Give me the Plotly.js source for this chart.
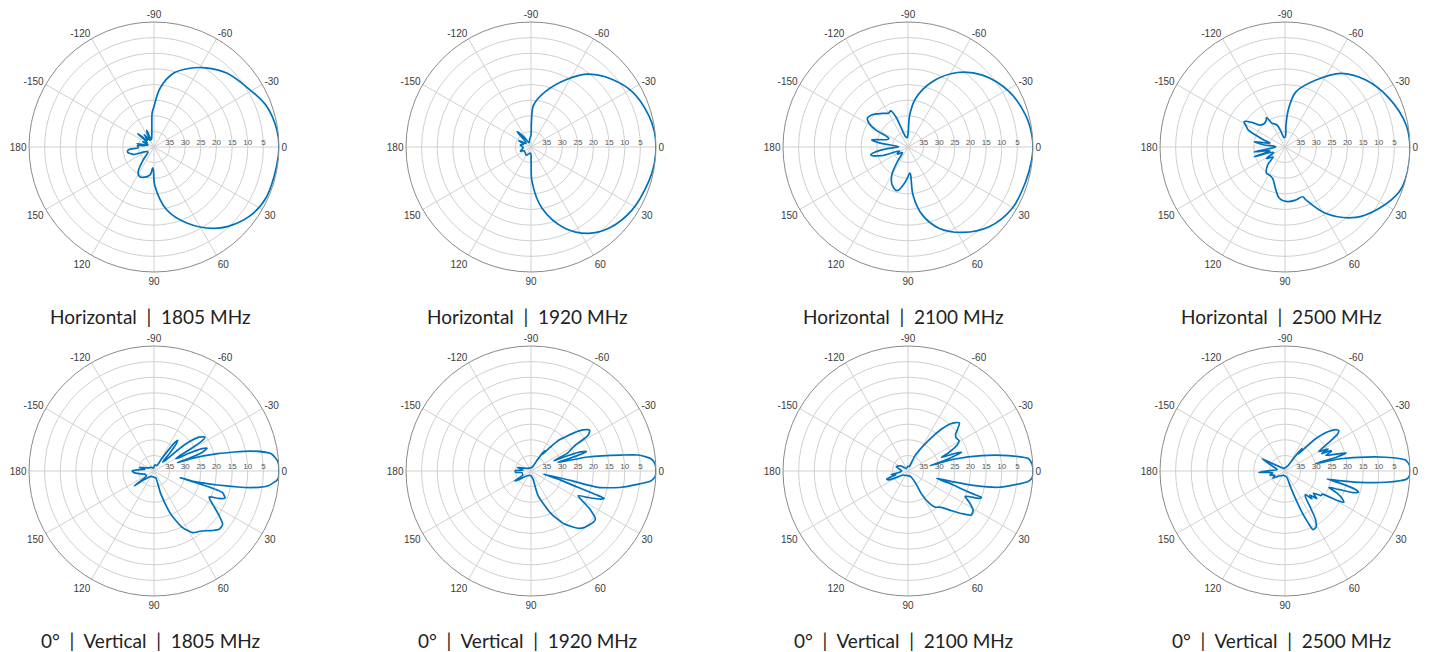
<!DOCTYPE html>
<html>
<head>
<meta charset="utf-8">
<script src="https://cdn.plot.ly/plotly-3.0.1.min.js"></script>
<style>html,body{margin:0;padding:0;background:#fff;}#chart{width:1432px;height:652px;}</style>
</head>
<body>
<div id="chart"></div>
<script>
// ---------- DATA (angle in degrees, attenuation in dB below peak) ----------
const angleTickVals = [0,30,60,90,120,150,180,210,240,270,300,330];
const angleTickText = ['0','30','60','90','120','150','180','-150','-120','-90','-60','-30'];
const radialTickVals = [35,30,25,20,15,10,5];

const titles = [
  'Horizontal  |  1805 MHz','Horizontal  |  1920 MHz','Horizontal  |  2100 MHz','Horizontal  |  2500 MHz',
  '0°  |  Vertical  |  1805 MHz','0°  |  Vertical  |  1920 MHz','0°  |  Vertical  |  2100 MHz','0°  |  Vertical  |  2500 MHz'
];

const thetaH1805 = [-110,-100,-96,-93,-90,-84,-75,-65.5,-57,-45.5,-31,-20,-8,0,9,23.6,33.6,44.4,54,66.7,78.6,88.5,91.7,93.6,98,109,116.6,122.8,130,140,150,160,163,168.5,174,178,-175.4,-172,-169,-163,-155,-148,-140.8,-135,-128,-122,-117,-113.7,-110];
const attH1805   = [37.5,36,33.4,29,27,21,15.5,12.3,9.8,6.8,4.3,1.7,0.3,0,0.3,0.6,1.8,4.5,7.8,13.5,19.5,27.4,32.7,33.3,31,29.7,29.5,30.7,34.7,37.5,37,33,32.5,31.4,31.8,35,34.7,37,34.4,38,36,37.5,33.3,37,35,37.5,35.5,34.2,37.5];

const thetaH1920 = [-100,-90,-89,-86.4,-75.5,-62.9,-52.5,-43.4,-28.7,-15.2,-7,0,8,16.4,32,46.3,56.3,67.1,79.8,88.3,89.5,95,120,150,159,165,175,-170,-160,-152.8,-142,-132,-125,-115,-100];
const attH1920   = [37.5,36.2,31.9,26.5,21.7,15.9,10.6,7.3,3.1,1.0,0.2,0,0.2,0.75,1.9,4.0,6.8,11.7,20.1,28.9,35.3,38,37,37.5,36.4,37,37.5,36.5,37.5,35.6,38,33.4,36,38.5,37.5];

const thetaH2100 = [-95,-89,-87,-81,-69.6,-56.5,-44,-28.7,-15.2,-6,0,6,16.4,30.4,44.5,57.5,69.1,78.1,84,84.6,86,94,103.7,112.4,120,126,135,145,149,155,162,168,173,178,-178,-172,-169,-165,-160,-156,-152,-148.7,-144.8,-138,-127.3,-120,-115.7,-112,-110,-103,-95];
const attH2100   = [37,35,29.8,24.2,17.7,11.4,6.9,3.1,1.0,0.2,0,0.2,0.75,1.3,3.6,7.6,12.2,17.8,24.5,31,31.6,28.9,25.6,26.8,29.6,34.2,37.5,36,36,37,31,27.8,31,36,37,31,28.2,31,33,33.3,28,25.4,24.1,24.6,26.5,27.5,27.2,29.5,33,36.6,37];

const thetaH2500 = [-96,-88,-87.4,-84.6,-78.8,-65.2,-52.8,-39.6,-25,-10.3,0,11.4,21.3,33,44.7,58.3,68.4,70.4,78.3,87.2,96.3,103,111.5,119,124.8,134,140,148,155,162.5,166,171,176,-178,-174,-170,-166,-162,-158,-155,-152,-148,-143,-139.4,-132,-125,-122,-119,-110,-104.6,-96];
const attH2500   = [37,36.7,33,27.6,22,16.4,10.4,6.4,3.2,0.6,0,0,0.7,4,8,15,21.8,23.1,22.7,22.5,23.5,26.4,29.2,29.7,29.7,32,35,33,36,29.7,35,30,36,37,33,30,35,33,30,27,26,24.6,27,29.2,30,29.5,28.9,31.2,32.5,34.9,37];

const thetaV1805 = [-80,-62,-58,-55.6,-54,-52.3,-51,-48.5,-46,-43,-40.6,-37,-33.7,-32,-31,-30,-28,-27.2,-25,-23.2,-21,-20,-19.7,-18.4,-15.2,-11.6,-8.4,-4.5,0,3.8,7.5,9.7,12.4,14.8,14.2,15.8,17.5,21,23,25.2,29.6,33.2,37.8,41.8,46,51.9,57.9,63.2,68.6,73.3,76,90,120,138,143,147,160,170,176,180,-176,-170,-166,-160,-150,-130,-100,-80];
const attV1805   = [38,38,35.5,32.2,29,27.6,28.5,32.6,36,35,27,22,20.4,22,27,32,31,27.9,23,21.5,23.5,28,32,27.5,18.9,8.3,2.1,0.3,0,0.3,3.3,8.5,19.1,26.6,31.3,24.4,17,15.7,17.5,20.5,18.4,15.7,12.2,12,13.5,15.6,16.7,19.7,25.1,32.2,37.8,38,38,36,32.1,37,37,35,33.5,33,34.5,37,35.2,37,38,38.5,39,38];

const thetaV1920 = [-70,-62,-58,-56,-55,-52,-48.3,-45,-40,-36,-34.5,-32,-30.1,-26,-24,-22.5,-21,-19.3,-18.5,-18,-17.8,-13.8,-10,-8.5,-5.7,-3,0,2.5,4.6,10.2,13.7,13.5,14,17,18.7,20,20.5,22,25,27.7,32.9,36.7,39.6,46.4,50.6,57.6,64.7,74,76,90,130,145,149,153,170,176,-178,-174,-165,-158,-145,-100,-70];
const attV1920   = [38.5,37,34,32.2,33.5,31,27,24.7,20,17.5,17.2,18.5,23.9,27,32,27,23,21.2,24,29,31,21.2,10.6,5.4,1.3,0.2,0,0.2,1.4,10.6,17.9,26.7,36,30,26.4,18,15,16,20,23,17.6,14.3,14.2,15.1,16.3,19.9,24.8,31.8,37.3,38.5,38,35,33.9,37,37,35,35,37.5,35.5,37.5,38.5,39,38.5];

const thetaV2100 = [-75,-70,-65.5,-56.2,-51.3,-48.2,-45.6,-43,-40,-37.8,-34.5,-30.7,-27.5,-24,-22.1,-20.5,-19.2,-17,-15,-13.6,-14.3,-11.8,-8.7,-5.9,-3,0,3,5,10.2,12.3,13.5,14.3,17,18.5,19.5,19.7,21,24,27,31.3,34.9,37.8,42.3,46,50.1,53,57,59.3,58,65,100,140,152,156,159.4,163,168,172,-178,-160,-146,-120,-90,-75];
const attV2100   = [38.5,38,34.6,28.3,22.8,19.8,18.3,17.5,19.3,20.7,21.3,21,22.4,26,28.4,24,21.8,26,30,32.7,24.5,15.9,7.5,1.3,0.2,0,0.2,1.4,10.6,18,25,30.5,25,21.9,17,15,15.5,20,18,15.6,15.4,17.6,21.1,23.5,24.9,25.5,28,31.4,35.7,38,38.5,38,35,33,32.7,36,34.5,37.5,38,36,37,39,38.5,38.5];

const thetaV2500 = [-70,-60,-55,-53,-51.5,-50,-46.5,-42,-38.5,-37,-35,-32.5,-30,-27,-25.5,-24,-23,-21,-18.5,-16.4,-15,-13.5,-12.6,-10.5,-7.8,-5.2,-2.5,0,2,3.75,6.4,8.7,10.2,10.8,12.5,14.5,16.1,17.5,19,20.5,23,26,28.1,29.5,31.9,34.2,38,41,44,46,49,52,55,57.7,61,64.5,66,67.6,69,71,75,110,140,150,158,165,172,177,180,-177,-170,-160,-152,-148,-140,-120,-90,-70];
const attV2500   = [38.5,38,34,30.9,33,31.5,25.9,21,18.8,18.5,19.5,24.3,27.5,24.5,27,24,23.9,26,23,19.5,23,30,22.4,16,7.6,1.3,0.1,0,0.1,0.9,7.7,16.1,22.5,26.3,22,17,15.5,17,22,25,22,19.5,18.7,21,26,26,28.5,26.5,29,27.6,30,29.3,26,21.8,19.5,19.2,22,25.7,30,34.8,38,38.5,37.5,35.5,36.5,35,36,31.6,34,36,37.5,36,31.7,36,38,39,39,38.5];

const series = [
  [thetaH1805, attH1805],[thetaH1920, attH1920],[thetaH2100, attH2100],[thetaH2500, attH2500],
  [thetaV1805, attV1805],[thetaV1920, attV1920],[thetaV2100, attV2100],[thetaV2500, attV2500]
];

// ---------- LAYOUT ----------
const W = 1432, H = 652, R = 125;
const colX = [154, 531, 908, 1285];
const rowY = [147, 471];
const titleY = [316, 640];

const traces = [];
const layout = {
  width: W, height: H,
  margin: {l:0, r:0, t:0, b:0},
  paper_bgcolor: '#ffffff',
  showlegend: false,
  annotations: []
};

series.forEach((s, i) => {
  const col = i % 4, row = Math.floor(i / 4);
  const cx = colX[col], cy = rowY[row];
  const key = i === 0 ? 'polar' : 'polar' + (i + 1);
  traces.push({
    type: 'scatterpolar',
    subplot: key,
    theta: s[0],
    r: s[1],
    mode: 'lines',
    line: {color: '#0072BD', width: 1.7, shape: 'spline', smoothing: row === 0 ? 1 : 0.6},
    hoverinfo: 'skip'
  });
  layout[key] = {
    domain: {
      x: [(cx - R) / W, (cx + R) / W],
      y: [1 - (cy + R) / H, 1 - (cy - R) / H]
    },
    bgcolor: '#ffffff',
    angularaxis: {
      rotation: 0,
      direction: 'clockwise',
      tickmode: 'array',
      tickvals: angleTickVals,
      ticktext: angleTickText,
      ticks: '',
      showline: true,
      linecolor: '#8a8a8a',
      linewidth: 1,
      gridcolor: '#d0d0d0',
      gridwidth: 1,
      tickfont: {family: 'Liberation Sans, Arial, sans-serif', size: 10, color: '#3a3a3a'}
    },
    radialaxis: {
      range: [40, 0],
      tickmode: 'array',
      tickvals: radialTickVals,
      angle: 0,
      tickangle: 0,
      side: 'counterclockwise',
      ticks: '',
      showline: false,
      gridcolor: '#d0d0d0',
      gridwidth: 1,
      tickfont: {family: 'Liberation Sans, Arial, sans-serif', size: 8, color: '#555555'}
    }
  };
  layout.annotations.push({
    xref: 'paper', yref: 'paper',
    x: (cx - 4) / W, y: 1 - titleY[row] / H,
    xanchor: 'center', yanchor: 'middle',
    showarrow: false,
    text: titles[i].replace(/  /g, '\u00a0\u00a0'),
    font: {family: 'Lato, Open Sans, sans-serif', size: 19, color: '#222222'}
  });
});

Plotly.newPlot('chart', traces, layout, {staticPlot: true, displayModeBar: false});
</script>
</body>
</html>
